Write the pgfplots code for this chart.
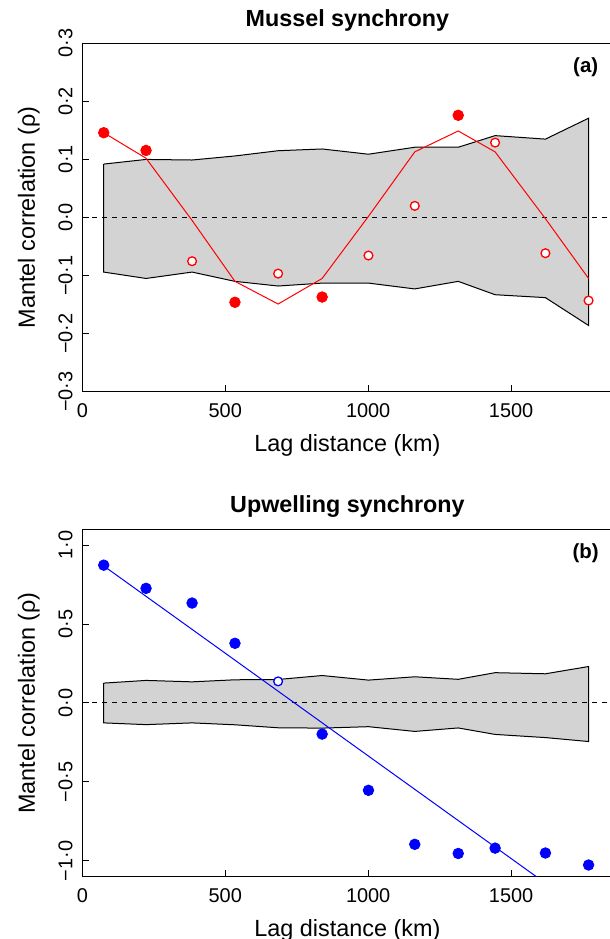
\documentclass[border=0pt]{standalone}
\usepackage{pgfplots}
\pgfplotsset{compat=1.18}
\usepackage{fontspec}
\setmainfont{Liberation Sans}
\definecolor{envgray}{RGB}{211,211,211}
\pgfplotsset{
  mystyle/.style={
    scale only axis, width=265.15bp, xmin=0, xmax=1855,
    axis line style={line width=0.6bp},
    tick align=inside, tick pos=left, major tick length=3.5bp,
    every tick/.style={black, line width=0.5bp},
    xtick={0,500,1000,1500},
    xticklabels={0,500,1000,1500},
    xticklabel style={anchor=north, inner sep=0pt},
    xticklabel shift=5.5bp,
    yticklabel style={rotate=90, anchor=south, inner sep=0pt},
    yticklabel shift=4.65bp,
    tick label style={font=\fontsize{10}{12}\selectfont},
    label style={font=\fontsize{11.75}{14}\selectfont},
    xlabel={Lag distance (km)},
    ylabel={Mantel correlation (ρ)},
    xlabel style={at={(axis description cs:0.5,0)}, anchor=north, inner sep=0pt, yshift=-21.25bp},
    ylabel style={at={(axis description cs:-0.1222,0.5)}, anchor=north, inner sep=0pt},
    every axis title shift=0pt,
    title style={at={(axis description cs:0.5,1)}, anchor=base, inner sep=0pt, yshift=8.25bp, font=\bfseries\fontsize{11.7}{14}\selectfont},
    clip=true,
  }
}
\begin{document}
\begin{tikzpicture}
\useasboundingbox (0,0) rectangle (305bp,469.5bp);
\clip (0,0) rectangle (305bp,469.5bp);
% ---------- (a) ----------
\begin{axis}[mystyle, at={(41.15bp,273.65bp)}, anchor=south west, height=174.2bp,
  ymin=-0.3, ymax=0.3, ytick={-0.3,-0.2,-0.1,0,0.1,0.2,0.3},
  yticklabels={−0·3,−0·2,−0·1,0·0,0·1,0·2,0·3},
  title={Mussel synchrony}]
\addplot[draw=black, line width=0.5bp, fill=envgray] coordinates {
 (75,0.092) (223,0.100) (384,0.099) (534,0.106) (685,0.115) (839,0.118) (1001,0.109) (1163,0.121) (1315,0.121) (1444,0.141) (1620,0.135) (1771,0.171)
 (1771,-0.186) (1620,-0.138) (1444,-0.133) (1315,-0.110) (1163,-0.123) (1001,-0.113) (839,-0.113) (685,-0.118) (534,-0.110) (384,-0.094) (223,-0.105) (75,-0.094) (75,0.092)};
\addplot[black, line width=0.5bp, dash pattern=on 2.5bp off 2.5bp] coordinates {(0,0) (1855,0)};
\addplot[red, line width=0.5bp] coordinates {
 (75,0.146) (223,0.102) (384,-0.005) (534,-0.110) (685,-0.149) (839,-0.105) (1001,0.002) (1163,0.113) (1315,0.149) (1444,0.113) (1620,-0.002) (1771,-0.105)};
\addplot[only marks, mark=*, mark size=2.65bp, mark options={fill=red, draw=red}] coordinates {
 (75,0.146) (223,0.1155) (534,-0.146) (839,-0.137) (1315,0.176)};
\addplot[only marks, mark=*, mark size=2.2bp, mark options={fill=white, draw=red, line width=0.65bp}] coordinates {
 (384,-0.0753) (685,-0.0966) (1001,-0.0655) (1163,0.020) (1444,0.129) (1620,-0.0615) (1771,-0.143)};
\node[font=\bfseries\fontsize{10.25}{12}\selectfont] at (axis cs:1761,0.259) {(a)};
\end{axis}
% ---------- (b) ----------
\begin{axis}[mystyle, at={(41.15bp,31.15bp)}, anchor=south west, height=173.7bp,
  ymin=-1.1, ymax=1.1, ytick={-1,-0.5,0,0.5,1},
  yticklabels={−1·0,−0·5,0·0,0·5,1·0},
  title={Upwelling synchrony}]
\addplot[draw=black, line width=0.5bp, fill=envgray] coordinates {
 (75,0.126) (223,0.143) (384,0.134) (534,0.147) (685,0.149) (839,0.174) (1001,0.145) (1163,0.166) (1315,0.150) (1444,0.192) (1620,0.185) (1771,0.231)
 (1771,-0.244) (1620,-0.219) (1444,-0.199) (1315,-0.158) (1163,-0.180) (1001,-0.150) (839,-0.159) (685,-0.157) (534,-0.138) (384,-0.126) (223,-0.137) (75,-0.126) (75,0.126)};
\addplot[black, line width=0.5bp, dash pattern=on 2.5bp off 2.5bp] coordinates {(0,0) (1855,0)};
\addplot[blue, line width=0.5bp] coordinates {(75,0.868) (1700,-1.245)};
\addplot[only marks, mark=*, mark size=2.65bp, mark options={fill=blue, draw=blue}] coordinates {
 (75,0.873) (223,0.726) (384,0.633) (534,0.378) (839,-0.197) (1001,-0.553) (1163,-0.895) (1315,-0.953) (1444,-0.919) (1620,-0.950) (1771,-1.026)};
\addplot[only marks, mark=*, mark size=2.2bp, mark options={fill=white, draw=blue, line width=0.65bp}] coordinates {
 (685,0.137)};
\node[font=\bfseries\fontsize{10.25}{12}\selectfont] at (axis cs:1761,0.95) {(b)};
\end{axis}
\end{tikzpicture}
\end{document}
